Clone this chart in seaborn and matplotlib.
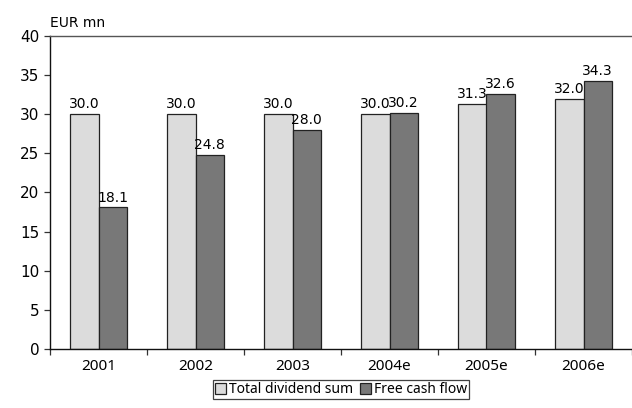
import pandas as pd
import matplotlib.pyplot as plt
import seaborn as sns

years = ['2001', '2002', '2003', '2004e', '2005e', '2006e']
dividend = [30.0, 30.0, 30.0, 30.0, 31.3, 32.0]
free_cash = [18.1, 24.8, 28.0, 30.2, 32.6, 34.3]
series_names = ['Total dividend sum', 'Free cash flow']
colors = ['#dcdcdc', '#787878']

df = pd.DataFrame({
    'year': years * 2,
    'value': dividend + free_cash,
    'series': [series_names[0]] * len(years) + [series_names[1]] * len(years),
})

sns.set_style('white')
plt.rcParams['font.family'] = ['DejaVu Sans']
plt.rcParams['text.color'] = 'black'
plt.rcParams['xtick.color'] = 'black'
plt.rcParams['ytick.color'] = 'black'

fig = plt.figure(figsize=(6.32, 4.08), dpi=100)
ax = fig.add_axes([50 / 632, 1 - 349 / 408, 582 / 632, 313 / 408])

sns.barplot(data=df, x='year', y='value', hue='series', palette=colors,
            width=0.58, edgecolor='#222222', linewidth=0.9, ax=ax)

# value labels on top of every bar
for cont in ax.containers:
    ax.bar_label(cont, fmt='%.1f', padding=2, fontsize=10, color='black')

ax.set_ylim(0, 40)
ax.set_xlim(-0.5, 5.5)
ax.set_yticks(range(0, 41, 5))
ax.set_xlabel('')
ax.set_ylabel('')

# ticks between categories on x
ax.set_xticks([i + 0.5 for i in range(-1, 6)], minor=True)
ax.tick_params(axis='x', which='major', length=0, pad=7, labelsize=11,
               labelfontfamily='Noto Sans')
ax.tick_params(axis='x', which='minor', length=4, width=0.9, color='#333333', direction='out', bottom=True)
ax.tick_params(axis='y', length=4, width=0.9, color='#333333', direction='out', left=True,
               labelsize=11)

for side in ['left', 'bottom']:
    ax.spines[side].set_color('#111111')
    ax.spines[side].set_linewidth(1)
ax.spines['top'].set_color('#555555')
ax.spines['top'].set_linewidth(1)
ax.spines['right'].set_visible(False)

ax.text(0.0, 1.02, 'EUR mn', transform=ax.transAxes, fontsize=10, ha='left', va='bottom')

leg = ax.legend(loc='upper center', bbox_to_anchor=(0.5, -0.1), ncol=2, frameon=True,
                fancybox=False, edgecolor='#111111', handlelength=0.8, handleheight=0.8,
                handletextpad=0.2, columnspacing=0.5, borderpad=0.15, borderaxespad=0,
                prop={'family': 'Noto Sans', 'size': 10})
leg.get_frame().set_linewidth(0.9)

fig.savefig('out.png', dpi=100)
